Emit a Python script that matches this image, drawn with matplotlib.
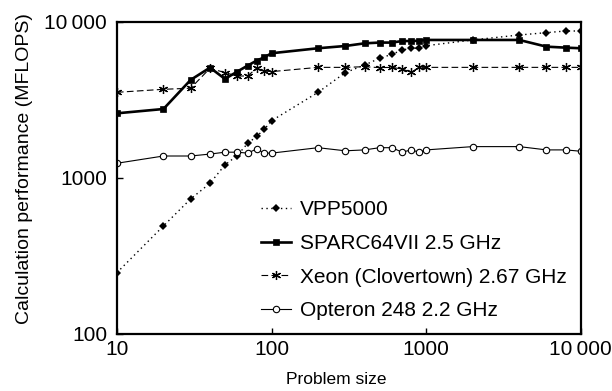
import numpy as np
import matplotlib
matplotlib.use("Agg")
import matplotlib.pyplot as plt
from matplotlib.ticker import FixedLocator, FixedFormatter, NullLocator

plt.rcParams["font.family"] = ["Liberation Sans", "DejaVu Sans"]

# problem sizes
sizes = [10, 20, 30, 40, 50, 60, 70, 80, 90, 100, 200, 300, 400, 500, 600,
         700, 800, 900, 1000, 2000, 4000, 6000, 8000, 10000]

vpp5000 = [247, 492, 733, 923, 1210, 1390, 1660, 1840, 2050, 2320, 3530, 4720,
           5280, 5830, 6180, 6590, 6760, 6760, 7020, 7640, 8220, 8510, 8720, 8720]
sparc64 = [2590, 2760, 4240, 5080, 4300, 4790, 5230, 5630, 5920, 6280, 6760, 6990,
           7270, 7350, 7350, 7520, 7520, 7550, 7640, 7640, 7640, 6920, 6820, 6760]
xeon = [3530, 3690, 3750, 5030, 4720, 4490, 4490, 5030, 4830, 4790, 5100, 5100,
        5150, 5080, 5100, 4980, 4740, 5100, 5100, 5100, 5100, 5100, 5100, 5100]
opteron = [1240, 1380, 1380, 1420, 1460, 1460, 1440, 1530, 1440, 1440, 1560, 1490,
           1510, 1560, 1560, 1460, 1510, 1460, 1510, 1585, 1585, 1510, 1510, 1480]

x_ticks = [10, 100, 1000, 10000]
x_ticklabels = ["10", "100", "1000", "10\u2009000"]
y_ticks = [100, 1000, 10000]
y_ticklabels = ["100", "1000", "10\u2009000"]

fig = plt.figure(figsize=(6.12, 3.91), dpi=100)
ax = fig.add_axes([0.191, 0.1458, 0.758, 0.7987])

ax.plot(sizes, vpp5000, linestyle=(0, (1, 2.5)), color="black", linewidth=1.0,
        marker="D", markersize=3.6, markerfacecolor="black", markeredgewidth=0,
        label="VPP5000")
ax.plot(sizes, sparc64, linestyle="-", color="black", linewidth=1.9,
        marker="s", markersize=4.2, markerfacecolor="black", markeredgewidth=0.5,
        label="SPARC64VII 2.5 GHz")
ax.plot(sizes, xeon, linestyle=(0, (6, 3)), color="black", linewidth=0.8,
        marker=(6, 2, 0), markersize=6.5, markeredgewidth=0.9,
        label="Xeon (Clovertown) 2.67 GHz")
ax.plot(sizes, opteron, linestyle="-", color="black", linewidth=0.8,
        marker="o", markersize=4.6, markerfacecolor="white", markeredgewidth=0.8,
        label="Opteron 248 2.2 GHz")

ax.set_xscale("log")
ax.set_yscale("log")
ax.set_xlim(10, 10000)
ax.set_ylim(100, 10000)

ax.xaxis.set_major_locator(FixedLocator(x_ticks))
ax.xaxis.set_major_formatter(FixedFormatter(x_ticklabels))
ax.xaxis.set_minor_locator(NullLocator())
ax.yaxis.set_major_locator(FixedLocator(y_ticks))
ax.yaxis.set_major_formatter(FixedFormatter(y_ticklabels))
ax.yaxis.set_minor_locator(NullLocator())

ax.tick_params(direction="in", length=4, width=1.0, labelsize=15)
ax.tick_params(axis="x", pad=4)
ax.tick_params(axis="y", pad=7)
for spine in ax.spines.values():
    spine.set_linewidth(1.6)

ax.set_xlabel("Problem size", fontsize=12.5)
ax.set_ylabel("Calculation performance (MFLOPS)", fontsize=14)
ax.xaxis.set_label_coords(0.472, -0.122)
ax.yaxis.set_label_coords(-0.181, 0.53)

ax.legend(loc="lower right", bbox_to_anchor=(1.0, 0.0), frameon=False,
          fontsize=15, handlelength=1.45, handletextpad=0.45, labelspacing=0.7,
          borderaxespad=0.26)

fig.savefig("out.png", dpi=100, facecolor="white")
